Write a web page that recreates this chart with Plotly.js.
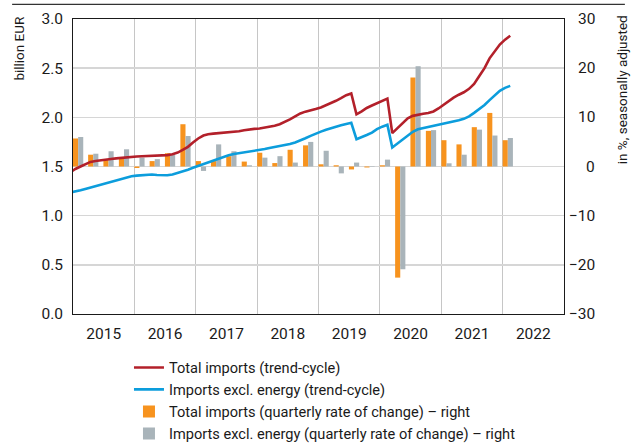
<!DOCTYPE html>
<html><head><meta charset="utf-8">
<script src="https://cdn.plot.ly/plotly-3.0.1.min.js"></script>
<style>html,body{margin:0;padding:0;background:#fff}#chart{width:638px;height:446px}</style>
</head><body><div id="chart"></div>
<script>
// Monthly trend-cycle series (billion EUR), Dec 2014 .. Feb 2022
const firstMonth = '2014-12';
const totalTrend = [
  1.44,1.475,1.50,1.525,1.547,1.556,1.565,1.570,1.576,1.583,1.589,1.594,1.598,
  1.602,1.605,1.606,1.608,1.610,1.612,1.616,1.625,1.642,1.668,1.70,1.745,
  1.785,1.815,1.828,1.834,1.838,1.840,1.842,1.849,1.858,1.868,1.878,1.883,
  1.886,1.894,1.903,1.915,1.93,1.952,1.98,2.01,2.04,2.058,2.075,2.085,
  2.10,2.122,2.145,2.168,2.195,2.225,2.243,2.03,2.06,2.095,2.12,2.145,
  2.17,2.19,1.84,1.89,1.94,1.99,2.015,2.029,2.037,2.044,2.06,2.09,
  2.13,2.17,2.20,2.23,2.255,2.29,2.34,2.42,2.50,2.60,2.67,2.74,
  2.79,2.83
];
const exEnergyTrend = [
  1.235,1.245,1.258,1.272,1.287,1.30,1.315,1.33,1.345,1.362,1.377,1.39,1.40,
  1.407,1.413,1.417,1.418,1.414,1.411,1.411,1.419,1.433,1.45,1.468,1.487,
  1.505,1.523,1.54,1.56,1.58,1.60,1.615,1.627,1.635,1.642,1.648,1.656,
  1.665,1.677,1.689,1.698,1.706,1.716,1.728,1.745,1.763,1.787,1.812,1.835,
  1.855,1.874,1.89,1.906,1.92,1.933,1.944,1.777,1.797,1.82,1.845,1.88,
  1.905,1.925,1.693,1.735,1.78,1.82,1.853,1.878,1.89,1.90,1.91,1.92,
  1.93,1.945,1.958,1.97,1.985,2.01,2.045,2.085,2.125,2.175,2.225,2.27,
  2.30,2.32
];
// Quarterly rates of change (%), 2015Q1 .. 2022Q1
const firstQuarterYear = 2015;
const totalQoQ = [
  5.7,2.4,1.5,1.6,
  -0.3,1.1,2.7,8.6,
  1.1,1.1,2.1,1.0,
  2.8,0.7,3.4,4.3,
  0.45,0.25,-0.6,-0.2,
  0.25,-22.6,18.1,7.25,
  5.35,4.5,8.0,10.9,
  5.35
];
const exEnergyQoQ = [
  6.0,2.6,3.1,3.5,
  1.8,1.5,2.4,6.2,
  -0.9,4.5,3.1,0.25,
  1.8,2.1,0.8,5.0,
  3.2,-1.4,0.8,-0.1,
  1.4,-20.9,20.4,7.4,
  0.65,2.4,7.5,6.3,
  5.8
];
const leftTickVals = [0,0.5,1.0,1.5,2.0,2.5,3.0];
const leftTickText = ['0.0','0.5','1.0','1.5','2.0','2.5','3.0'];
const rightTickVals = [-30,-20,-10,0,10,20,30];
const rightTickText = ['\u221230','\u221220','\u221210','0','10','20','30'];
const seriesNames = [
  'Total imports (trend-cycle)',
  'Imports excl. energy (trend-cycle)',
  'Total imports (quarterly rate of change) \u2013 right',
  'Imports excl. energy (quarterly rate of change) \u2013 right'
];

function monthDates(start, n) {
  let [y, m] = start.split('-').map(Number);
  const out = [];
  for (let i = 0; i < n; i++) {
    out.push(y + '-' + String(m).padStart(2, '0') + '-15');
    m++; if (m > 12) { m = 1; y++; }
  }
  return out;
}
function quarterDates(y0, n) {
  const out = [];
  for (let i = 0; i < n; i++) {
    const y = y0 + Math.floor(i / 4), q = i % 4;
    out.push(y + '-' + String(q * 3 + 1).padStart(2, '0') + '-01');
  }
  return out;
}
const mx = monthDates(firstMonth, totalTrend.length);
const qx = quarterDates(firstQuarterYear, totalQoQ.length);
const DAY = 86400000;
const BW = 30.5 * DAY;

const FONT = "Roboto, 'Liberation Sans', sans-serif";
const INK = '#1a1a1a';

const traces = [
  {type:'bar', x:qx, y:totalQoQ, name:seriesNames[2], yaxis:'y', width:BW, offset:0,
   marker:{color:'#F7931E', line:{width:0}}, legendrank:3},
  {type:'bar', x:qx, y:exEnergyQoQ, name:seriesNames[3], yaxis:'y', width:BW, offset:BW,
   marker:{color:'#A9B4BA', line:{width:0}}, legendrank:4},
  {type:'scatter', mode:'lines', x:mx, y:totalTrend, name:seriesNames[0], yaxis:'y2',
   line:{color:'#B3202A', width:2.6}, legendrank:1},
  {type:'scatter', mode:'lines', x:mx, y:exEnergyTrend, name:seriesNames[1], yaxis:'y2',
   line:{color:'#0C9DDC', width:2.6}, legendrank:2}
];

// right-axis labels, right-aligned like the original, placed through the y scale
const rightLabels = rightTickVals.map((v, i) => ({
  text: rightTickText[i], xref:'paper', yref:'y', x:1.0672, y:v,
  xanchor:'right', yanchor:'middle', showarrow:false,
  font:{family:FONT, size:15.5, color:INK}
}));

const layout = {
  width:638, height:446,
  margin:{l:73, r:74, t:19, b:132, pad:0},
  paper_bgcolor:'#fff', plot_bgcolor:'#fff',
  font:{family:FONT, color:INK, size:14},
  barmode:'overlay',
  showlegend:true,
  legend:{xref:'paper', yref:'container', x:0.114, xanchor:'left', y:0.212, yanchor:'top', orientation:'v',
          font:{family:FONT, size:14.6, color:INK}, bgcolor:'rgba(0,0,0,0)',
          itemwidth:30, traceorder:'normal', tracegroupgap:0},
  xaxis:{type:'date', range:['2015-01-01','2023-01-01'], dtick:'M12', tick0:'2015-01-01',
         tickformat:'%Y', ticklabelmode:'period', ticks:'', showgrid:true,
         gridcolor:'#c6c6c6', gridwidth:1, showline:true, linecolor:INK, linewidth:1.3,
         mirror:true, ticklabelstandoff:5, tickfont:{family:FONT, size:15.5, color:INK}},
  yaxis:{side:'right', range:[-30,30], tickvals:rightTickVals, showticklabels:false,
         showgrid:true, gridcolor:'#d6d6d6', gridwidth:1.6, zeroline:false, ticks:'',
         showline:true, linecolor:INK, linewidth:1.3, mirror:true},
  yaxis2:{overlaying:'y', side:'left', range:[0,3], tickvals:leftTickVals, ticktext:leftTickText,
          showgrid:false, zeroline:false, ticks:'', showline:false,
          ticklabelstandoff:9, tickfont:{family:FONT, size:15.5, color:INK}},
  annotations:[
    {text:'billion EUR', xref:'paper', yref:'paper', x:-0.11, y:1.02, xanchor:'center', yanchor:'top',
     textangle:-90, showarrow:false, font:{family:FONT, size:13.5, color:INK}},
    {text:'in %, seasonally adjusted', xref:'paper', yref:'paper', x:1.1175, y:1.02, xanchor:'center', yanchor:'top',
     textangle:-90, showarrow:false, font:{family:FONT, size:13.5, color:INK}}
  ].concat(rightLabels),
  shapes:[
    {type:'line', xref:'paper', yref:'paper', x0:-0.124, x1:1.124, y0:1.0498, y1:1.0498,
     line:{color:'#333', width:1.3}}
  ]
};

Plotly.newPlot('chart', traces, layout, {displayModeBar:false, staticPlot:true});
</script>
</body></html>
